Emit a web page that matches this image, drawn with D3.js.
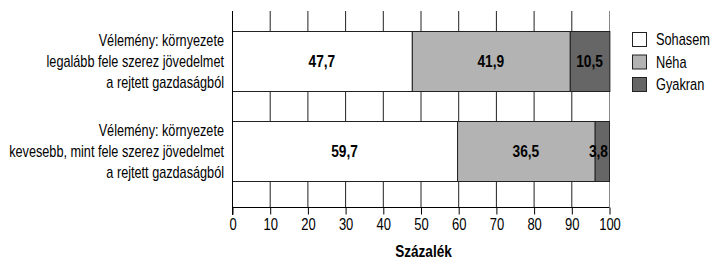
<!DOCTYPE html>
<html>
<meta charset="utf-8">
<style>
body { margin: 0; background: #fff; }
svg text { font-family: "Liberation Sans", Arimo, sans-serif; fill: #000; font-size: 16px; }
.axis path, .axis line { stroke: #000; }
</style>
<svg id="chart" width="710" height="261"></svg>
<script src="https://d3js.org/d3.v7.min.js"></script>
<script>

var categories = [
  ["Vélemény: környezete", "legalább fele szerez jövedelmet", "a rejtett gazdaságból"],
  ["Vélemény: környezete", "kevesebb, mint fele szerez jövedelmet", "a rejtett gazdaságból"]
];
var seriesNames = ["Sohasem", "Néha", "Gyakran"];
var sohasem = [47.7, 59.7];
var neha = [41.9, 36.5];
var gyakran = [10.5, 3.8];
var xTicks = [0, 10, 20, 30, 40, 50, 60, 70, 80, 90, 100];
var xTitle = "Százalék";

var colors = ["#ffffff", "#b3b3b3", "#666666"];

var svg = d3.select("#chart");
var left = 232, right = 609, plotTop = 11, axisY = 207;

// the reference uses a condensed face; squeeze Liberation Sans horizontally
function squeeze(sel, k) {
  sel.each(function() {
    var t = d3.select(this);
    var ax = +t.attr("x") || 0;
    var prev = t.attr("transform") || "";
    t.attr("transform", prev + " translate(" + ax + ",0) scale(" + k + ",1) translate(" + (-ax) + ",0)");
  });
}
function widthOf(str, bold) {
  var t = svg.append("text").style("font-weight", bold ? "bold" : null).text(str);
  var w = t.node().getComputedTextLength();
  t.remove();
  return w;
}
var kLabel = 215 / widthOf("kevesebb, mint fele szerez jövedelmet");
var kTick = 21.7 / widthOf("100");
var kValue = 26.7 / widthOf("47,7", true);
var kTitle = 56.7 / widthOf(xTitle, true);
var kLegend = 54 / widthOf("Sohasem");

var rows = categories.map(function(c, i) {
  return { key: i, label: c, Sohasem: sohasem[i], "Néha": neha[i], Gyakran: gyakran[i] };
});

var x = d3.scaleLinear().domain([0, 100]).range([left, right]);
var y = d3.scaleBand().domain(rows.map(function(d) { return d.key; }))
  .range([16, 196]).paddingInner(1 / 3).paddingOuter(1 / 6);

// grid
svg.append("g").selectAll("line")
  .data(xTicks.slice(1))
  .enter().append("line")
    .attr("x1", function(d) { return x(d) + 0.5; })
    .attr("x2", function(d) { return x(d) + 0.5; })
    .attr("y1", plotTop).attr("y2", axisY)
    .attr("stroke", function(d) { return d === 100 ? "#888" : "#222"; })
    .attr("stroke-width", 1);

var stack = d3.stack().keys(seriesNames);
var series = stack(rows);

var g = svg.append("g");
series.forEach(function(s, si) {
  g.selectAll(".s" + si)
    .data(s)
    .enter().append("rect")
      .attr("x", function(d) { return x(d[0]) + 0.5; })
      .attr("width", function(d) { return x(d[1]) - x(d[0]); })
      .attr("y", function(d) { return y(d.data.key) + 0.5; })
      .attr("height", y.bandwidth())
      .attr("fill", colors[si])
      .attr("stroke", "#222")
      .attr("stroke-width", 1);
});

// value labels
series.forEach(function(s, si) {
  var lab = g.selectAll(".l" + si)
    .data(s)
    .enter().append("text")
      .attr("x", function(d) {
        var w = x(d[1]) - x(d[0]);
        return w < 25 ? x(d[1]) - 1 : (x(d[0]) + x(d[1])) / 2;
      })
      .attr("text-anchor", function(d) { return (x(d[1]) - x(d[0])) < 25 ? "end" : "middle"; })
      .attr("y", function(d) { return y(d.data.key) + y.bandwidth() / 2; })
      .attr("dy", "0.35em")
      .style("font-weight", "bold")
      .text(function(d) { return d3.format(".1f")(d[1] - d[0]).replace(".", ","); });
  squeeze(lab, kValue);
});

// y axis line
svg.append("line")
  .attr("x1", left + 0.5).attr("x2", left + 0.5)
  .attr("y1", plotTop).attr("y2", axisY + 8)
  .attr("stroke", "#000");

// category labels
rows.forEach(function(r) {
  var t = svg.append("text")
    .attr("x", left - 8)
    .attr("text-anchor", "end");
  r.label.forEach(function(line, li) {
    t.append("tspan")
      .attr("x", left - 8)
      .attr("y", y(r.key) + y.bandwidth() / 2 + (li - 1) * 21)
      .attr("dy", "0.35em")
      .text(line);
  });
  squeeze(t, kLabel);
});

// x axis
var xAxis = svg.append("g")
  .attr("class", "axis")
  .attr("transform", "translate(0," + (axisY + 0.5) + ")")
  .call(d3.axisBottom(x).tickValues(xTicks).tickSize(7).tickPadding(4).tickFormat(d3.format("d")));
xAxis.select(".domain").attr("d", "M" + (left + 0.5) + ",0H" + (right + 0.5));
xAxis.selectAll("line").attr("transform", "translate(0.5,0)");
xAxis.selectAll("text").style("font-size", "16px").style("font-family", null).attr("x", 0.5);
squeeze(xAxis.selectAll("text"), kTick);

var title = svg.append("text")
  .attr("x", (left + right) / 2 + 3)
  .attr("y", 251)
  .attr("dy", "0.35em")
  .attr("text-anchor", "middle")
  .style("font-weight", "bold")
  .text(xTitle);
squeeze(title, kTitle);

// legend
var legend = svg.append("g").attr("transform", "translate(632,32)");
seriesNames.forEach(function(n, i) {
  var lg = legend.append("g").attr("transform", "translate(0," + (i * 22.5) + ")");
  lg.append("rect")
    .attr("x", 0.5).attr("y", 0.5)
    .attr("width", 14).attr("height", 14)
    .attr("fill", colors[i]).attr("stroke", "#222");
  var lt = lg.append("text")
    .attr("x", 24).attr("y", 7.5)
    .attr("dy", "0.35em")
    .text(n);
  squeeze(lt, kLegend);
});

</script>
</html>
